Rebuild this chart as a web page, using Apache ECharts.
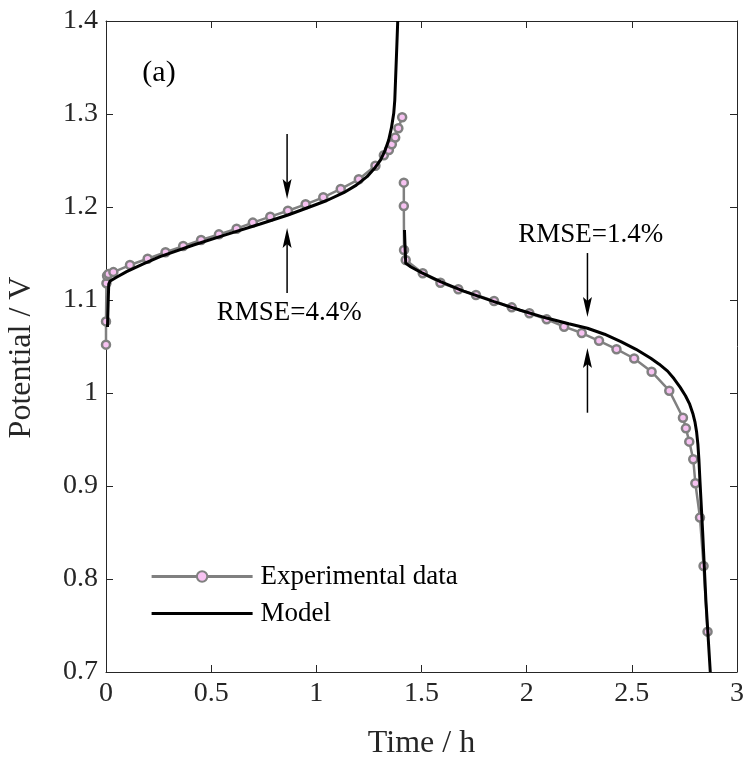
<!DOCTYPE html>
<html><head><meta charset="utf-8">
<script src="https://cdn.jsdelivr.net/npm/echarts@6/dist/echarts.min.js"></script>
<style>html,body{margin:0;padding:0;background:#fff}#c{width:743px;height:759px}</style>
</head><body><div id="c"></div>
<script>
// ---- data ----
const xTickValues = [0, 0.5, 1, 1.5, 2, 2.5, 3];
const yTickValues = [0.7, 0.8, 0.9, 1, 1.1, 1.2, 1.3, 1.4];

const expCharge = [[0,1.052],[0,1.077],[0.002,1.118],[0.005,1.126],[0.012,1.128],[0.035,1.130],[0.114,1.1376],[0.198,1.1444],[0.283,1.1513],[0.367,1.158],[0.452,1.1645],[0.537,1.1706],[0.621,1.1767],[0.698,1.1832],[0.781,1.1896],[0.865,1.196],[0.949,1.2029],[1.033,1.2104],[1.116,1.2194],[1.202,1.2298],[1.281,1.2444],[1.321,1.2556],[1.345,1.2613],[1.359,1.2674],[1.375,1.2746],[1.39,1.2846],[1.408,1.2965]];
const expDischarge = [[1.416,1.2262],[1.416,1.2011],[1.417,1.1538],[1.425,1.143],[1.506,1.1287],[1.590,1.1186],[1.675,1.1115],[1.759,1.1054],[1.845,1.099],[1.929,1.0921],[2.013,1.0857],[2.095,1.0792],[2.178,1.0713],[2.262,1.0645],[2.344,1.0561],[2.427,1.0471],[2.511,1.0371],[2.594,1.0229],[2.678,1.0025],[2.743,0.9734],[2.757,0.962],[2.773,0.9477],[2.792,0.9287],[2.802,0.903],[2.824,0.866],[2.841,0.814],[2.860,0.7434]];
const modelCharge = [[0.007,1.071],[0.01,1.095],[0.013,1.117],[0.02,1.1205],[0.05,1.1245],[0.098,1.1305],[0.18,1.139],[0.257,1.1466],[0.416,1.1591],[0.575,1.1706],[0.733,1.1817],[0.865,1.1914],[0.971,1.2003],[1.05,1.207],[1.13,1.2154],[1.19,1.2235],[1.241,1.2326],[1.28,1.2425],[1.305,1.2505],[1.327,1.261],[1.344,1.272],[1.357,1.285],[1.368,1.3008],[1.373,1.315],[1.379,1.3509],[1.383,1.375],[1.387,1.4]];
const modelDischarge = [[1.419,1.1753],[1.422,1.156],[1.425,1.1394],[1.45,1.1355],[1.50,1.1295],[1.590,1.1197],[1.70,1.1095],[1.845,1.0982],[1.97,1.089],[2.099,1.0803],[2.2,1.0745],[2.289,1.0696],[2.37,1.0632],[2.448,1.0552],[2.52,1.047],[2.590,1.0373],[2.63,1.031],[2.67,1.0235],[2.70,1.0155],[2.73,1.006],[2.755,0.997],[2.775,0.988],[2.79,0.978],[2.80,0.969],[2.808,0.958],[2.814,0.945],[2.819,0.928],[2.824,0.905],[2.837,0.8491],[2.852,0.7774],[2.873,0.70]];

const seriesNames = ['Experimental data', 'Model'];
const xAxisName = 'Time / h';
const yAxisName = 'Potential / V';

// annotations (data coordinates)
const arrowSpecs = [[0.861,1.2785,1.2086],[0.861,1.1075,1.1774],[2.289,1.1505,1.0817],[2.289,0.9788,1.0484]];
const textPos = [[0.252,1.344],[0.871,1.086],[2.305,1.17]];
const textLabels = ['(a)', 'RMSE=4.4%', 'RMSE=1.4%'];
const textSizes = [30, 27, 27];

// ---- chart ----
const FONT = '"Liberation Serif","Times New Roman",serif';
const AX = '#262626';
const chart = echarts.init(document.getElementById('c'), null, {renderer: 'canvas'});

function axisCommon(show) {
  return {
    axisLine: {show: true, onZero: false, lineStyle: {color: AX, width: 1}},
    axisTick: {show: true, inside: true, length: 7, lineStyle: {color: AX, width: 1}},
    splitLine: {show: false},
    axisLabel: {show: show, color: AX, fontFamily: FONT, fontSize: 28}
  };
}

const gap = [1.412, null];

const option = {
  animation: false,
  backgroundColor: '#fff',
  grid: {left: 106, right: 6, top: 21, bottom: 87, containLabel: false, outerBoundsMode: 'none'},
  legend: {
    data: [
      {name: seriesNames[0], lineStyle: {width: 3}},
      {name: seriesNames[1], lineStyle: {width: 3.2}, itemStyle: {color: 'rgba(0,0,0,0)', borderColor: 'rgba(0,0,0,0)', borderWidth: 0}}
    ],
    orient: 'vertical', left: 150, top: 563, padding: 0,
    itemWidth: 101, itemHeight: 13, itemGap: 10,
    textStyle: {fontFamily: FONT, fontSize: 27, color: '#000', padding: [0,0,0,3]}
  },
  xAxis: [
    Object.assign(axisCommon(true), {type: 'value', min: 0, max: 3, interval: 0.5, position: 'bottom',
      name: xAxisName, nameLocation: 'middle', nameGap: 56,
      nameTextStyle: {fontFamily: FONT, fontSize: 32, color: AX}}),
    Object.assign(axisCommon(false), {type: 'value', min: 0, max: 3, interval: 0.5, position: 'top'})
  ],
  yAxis: [
    Object.assign(axisCommon(true), {type: 'value', min: 0.7, max: 1.4, interval: 0.1, position: 'left',
      name: yAxisName, nameLocation: 'middle', nameGap: 68,
      nameTextStyle: {fontFamily: FONT, fontSize: 32, color: AX, padding: [0, 22, 0, 0]}}),
    Object.assign(axisCommon(false), {type: 'value', min: 0.7, max: 1.4, interval: 0.1, position: 'right'})
  ],
  series: [
    {
      name: seriesNames[0], type: 'line',
      data: expCharge.concat([gap], expDischarge),
      connectNulls: false, showAllSymbol: true,
      symbol: 'circle', symbolSize: 8,
      lineStyle: {color: '#808080', width: 2.5},
      itemStyle: {color: '#f7c2f2', borderColor: '#808080', borderWidth: 2.5},
      z: 2
    },
    {
      name: seriesNames[1], type: 'line',
      data: modelCharge.concat([gap], modelDischarge),
      connectNulls: false, showSymbol: false, symbol: 'none',
      lineStyle: {color: '#000', width: 3},
      itemStyle: {color: '#000'},
      z: 3
    },
    {
      type: 'custom', silent: true, z: 4,
      data: arrowSpecs,
      renderItem: function (params, api) {
        const x = api.value(0), ya = api.value(1), yb = api.value(2);
        const p0 = api.coord([x, ya]), p1 = api.coord([x, yb]);
        const dir = p1[1] > p0[1] ? 1 : -1;
        const L = 20, W = 4.5, notch = 4;
        const baseY = p1[1] - dir * L;
        return {type: 'group', children: [
          {type: 'line', shape: {x1: p0[0], y1: p0[1], x2: p1[0], y2: baseY + dir * notch}, style: {stroke: '#000', lineWidth: 1.5}},
          {type: 'polygon', shape: {points: [[p1[0], p1[1]], [p1[0] - W, baseY], [p1[0], baseY + dir * notch], [p1[0] + W, baseY]]}, style: {fill: '#000'}}
        ]};
      }
    },
    {
      type: 'custom', silent: true, z: 5,
      data: textPos,
      renderItem: function (params, api) {
        const p = api.coord([api.value(0), api.value(1)]);
        const i = params.dataIndex;
        return {type: 'text', x: p[0], y: p[1], style: {text: textLabels[i], fontFamily: FONT, fontSize: textSizes[i], fill: '#000', align: 'center', verticalAlign: 'middle'}};
      }
    }
  ]
};
chart.setOption(option);
</script>
</body></html>
